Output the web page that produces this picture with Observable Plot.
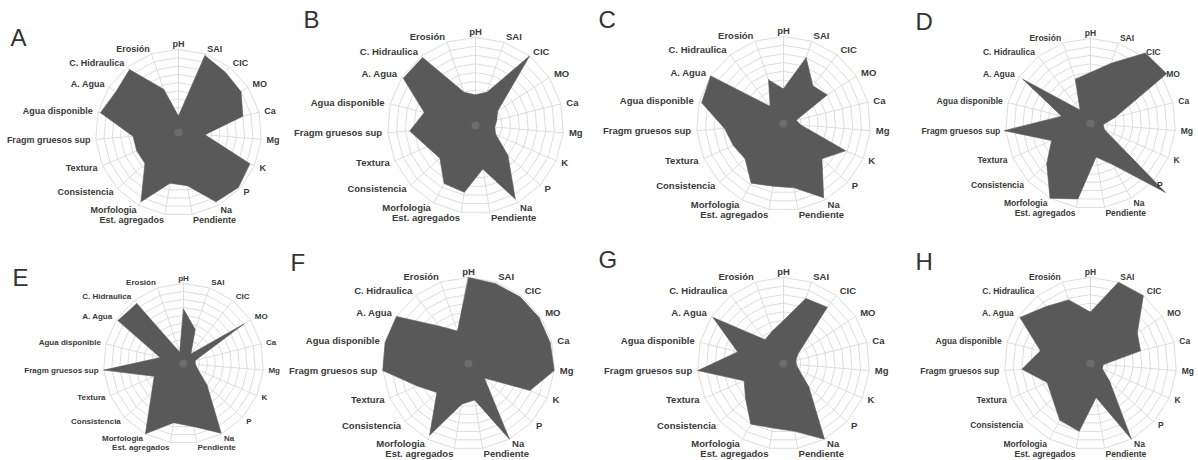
<!DOCTYPE html>
<html><head><meta charset="utf-8">
<script src="https://cdn.jsdelivr.net/npm/d3@7"></script>
<script src="https://cdn.jsdelivr.net/npm/@observablehq/plot@0.6"></script>
<style>
body{margin:0;background:#fff;}
#wrap{position:relative;width:1198px;height:460px;overflow:hidden;background:#fff;}
.panel{position:absolute;}
.panel svg{overflow:visible;}
</style></head><body><div id="wrap"></div>
<script>
const axes = ["pH","SAI","CIC","MO","Ca","Mg","K","P","Na","Pendiente","Est. agregados","Morfologia","Consistencia","Textura","Fragm gruesos sup","Agua disponible","A. Agua","C. Hidraulica","Erosión"];
const panelNames = ["A","B","C","D","E","F","G","H"];
const ringLevels = [1,2,3,4,5,6,7,8,9,10];

const valuesA = [2, 9.8, 9.2, 9, 8, 3.2, 9.4, 9.8, 9.5, 6.5, 6.2, 9.5, 5.5, 5.5, 5.5, 9.7, 9, 9.6, 5.5];
const valuesB = [3.5, 4, 10, 3, 2.5, 2.2, 2.5, 5, 9.5, 5, 7.7, 7.5, 5.5, 6, 7.5, 6, 9.8, 9.8, 4];
const valuesC = [4, 8, 5.5, 6, 1.5, 2, 7.8, 6, 9.7, 7.5, 7.3, 7.8, 6, 6.3, 6.8, 9.7, 10, 2.5, 5.3];
const valuesD = [6, 7.5, 10.5, 10.7, 3, 1.5, 1.8, 12, 5.5, 4, 9, 10, 7, 5, 10.2, 3.5, 9.5, 2, 5.5];
const valuesE = [6.8, 4.5, 1.5, 9, 1.5, 1.5, 2, 4, 9.9, 8, 7.5, 10, 5.4, 4, 10, 3, 9.8, 9.5, 1.5];
const valuesF = [10, 9.8, 9.8, 9.8, 9.8, 10, 7.8, 2.5, 10, 4.3, 4.8, 9.5, 5, 6.5, 10, 10, 10, 5.5, 4];
const valuesG = [5, 8, 8.3, 2, 1.5, 1.5, 2, 4, 10, 8, 7.6, 8, 6, 5, 10, 5.5, 9.8, 3.5, 4];
const valuesH = [6, 10, 10, 6.5, 6, 1.5, 1.5, 3, 10, 4, 8, 7.5, 6, 5.5, 8, 6, 9.8, 8.4, 7.8];
const series = [valuesA, valuesB, valuesC, valuesD, valuesE, valuesF, valuesG, valuesH];

// layout (pixels) kept apart from the data
const layout = [
  {left:0,   top:0,   w:290, cx:178, cy:132, R:83, lx:10, ly:28, fs:9},
  {left:290, top:0,   w:300, cx:185, cy:125, R:88, lx:13, ly:10, fs:9.5},
  {left:590, top:0,   w:300, cx:193, cy:123, R:87, lx:8,  ly:10, fs:9.5},
  {left:890, top:0,   w:308, cx:200, cy:123, R:85, lx:25, ly:12, fs:8.5},
  {left:0,   top:230, w:290, cx:183, cy:133, R:80, lx:12, ly:38, fs:8},
  {left:290, top:230, w:300, cx:178, cy:133, R:86, lx:0,  ly:23, fs:9.5},
  {left:590, top:230, w:300, cx:193, cy:133, R:86, lx:8,  ly:20, fs:9.5},
  {left:890, top:230, w:308, cx:200, cy:133, R:86, lx:25, ly:22, fs:8.5}
];

const n = axes.length;
const maxV = d3.max(ringLevels);
const ang = i => i * 2 * Math.PI / n;
const px = (r, i) => r * Math.sin(ang(i));
const py = (r, i) => r * Math.cos(ang(i));
const labelR = maxV * 1.065;

const wrap = document.getElementById("wrap");
const idx = d3.range(n);
const rightIdx = idx.filter(i => Math.sin(ang(i)) > 0.1);
const leftIdx = idx.filter(i => Math.sin(ang(i)) < -0.1);
const midIdx = idx.filter(i => Math.abs(Math.sin(ang(i))) <= 0.1);
const ringPts = ringLevels.flatMap(k => idx.map(i => ({k, i})));

series.forEach((vals, p) => {
  const L = layout[p];
  const poly = vals.map((v, i) => ({i, v}));
  const labelMark = (ids, anchor) => Plot.text(ids, {
    x: i => px(labelR, i), y: i => py(labelR, i), text: i => axes[i],
    textAnchor: anchor, fontSize: L.fs, fontWeight: "bold", fill: "#3a3a3a"
  });
  const chart = Plot.plot({
    width: L.w, height: 230, margin: 0,
    x: {domain: [-maxV, maxV], range: [L.cx - L.R, L.cx + L.R], axis: null},
    y: {domain: [-maxV, maxV], range: [L.cy + L.R, L.cy - L.R], axis: null},
    style: {background: "transparent", fontFamily: "'Liberation Sans', Arial, sans-serif", overflow: "visible"},
    marks: [
      Plot.line(ringPts, {x: d => px(d.k, d.i), y: d => py(d.k, d.i), z: "k", curve: "linear-closed", stroke: "#d4d4d4", strokeWidth: 0.8}),
      Plot.link(idx, {x1: 0, y1: 0, x2: i => px(maxV, i), y2: i => py(maxV, i), stroke: "#d4d4d4", strokeWidth: 0.8}),
      Plot.line(poly, {x: d => px(d.v, d.i), y: d => py(d.v, d.i), curve: "linear-closed", fill: "#595959", stroke: "#595959", strokeWidth: 0.6}),
      Plot.dot([0], {x: 0, y: 0, r: 4, fill: "#7a7a7a", fillOpacity: 0.6}),
      labelMark(rightIdx, "start"),
      labelMark(leftIdx, "end"),
      labelMark(midIdx, "middle"),
      Plot.text([panelNames[p]], {frameAnchor: "top-left", dx: L.lx, dy: L.ly, fontSize: 24, fill: "#333"})
    ]
  });
  const div = document.createElement("div");
  div.className = "panel";
  div.style.left = L.left + "px";
  div.style.top = L.top + "px";
  div.appendChild(chart);
  wrap.appendChild(div);
});
</script>
</body></html>
